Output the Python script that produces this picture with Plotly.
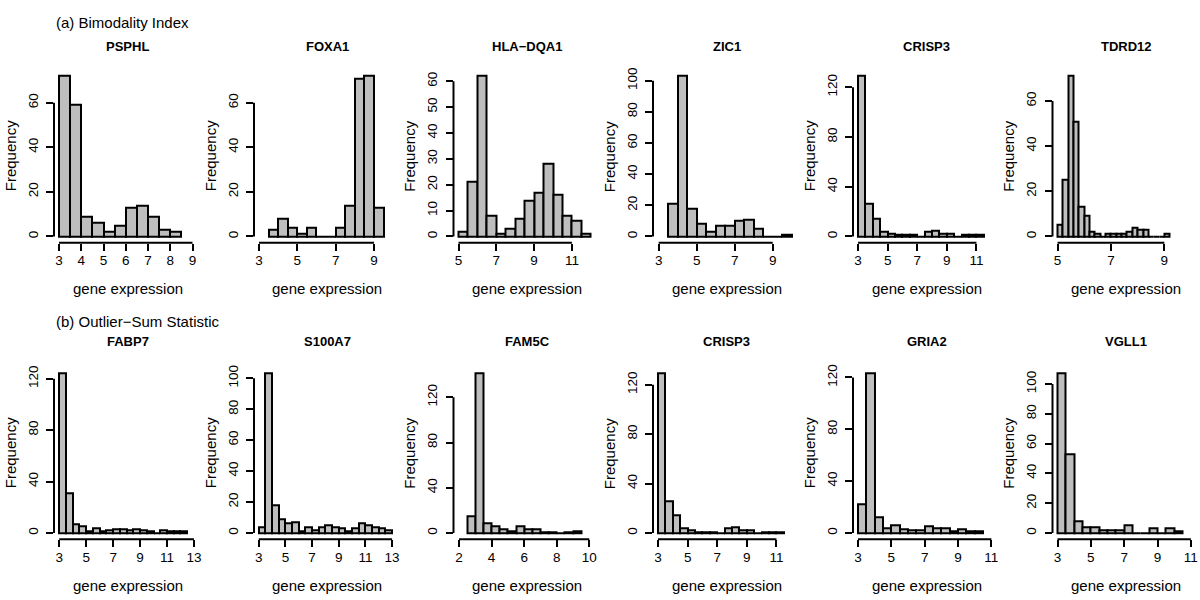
import plotly.graph_objects as go

# ---------------- data ----------------
gene_names = ["PSPHL", "FOXA1", "HLA\u2212DQA1", "ZIC1", "CRISP3", "TDRD12",
              "FABP7", "S100A7", "FAM5C", "CRISP3", "GRIA2", "VGLL1"]

bin_starts = [3.0, 3.5, 5.0, 3.5, 3.0, 5.0,
              3.0, 3.0, 2.5, 3.0, 3.0, 3.0]
bin_widths = [0.5, 0.5, 0.5, 0.5, 0.5, 0.2,
              0.5, 0.5, 0.5, 0.5, 0.5, 0.5]

psphl_counts = [72, 59, 9, 6, 2, 5, 13, 14, 9, 3, 2]
foxa1_counts = [3, 8, 4, 1, 4, 0, 0, 4, 14, 71, 72, 13]
hla_dqa1_counts = [2, 21, 62, 8, 1, 3, 7, 14, 17, 28, 16, 8, 6, 1]
zic1_counts = [21, 103, 18, 8, 3, 7, 7, 10, 11, 5, 0, 0, 1]
crisp3_counts = [129, 26, 14, 4, 2, 1, 1, 1, 0, 4, 5, 2, 2, 0, 1, 1, 1]
tdrd12_counts = [5, 25, 71, 51, 13, 9, 2, 1, 0, 1, 1, 1, 1, 2, 4, 3, 3, 0, 0, 0, 1]
fabp7_counts = [124, 31, 7, 5, 1, 4, 1, 2, 3, 3, 2, 3, 2, 1, 0, 2, 1, 1, 1]
s100a7_counts = [4, 103, 18, 9, 6, 7, 1, 4, 2, 4, 5, 4, 3, 1, 3, 6, 5, 4, 3, 2]
fam5c_counts = [15, 141, 9, 6, 3, 2, 6, 3, 3, 1, 1, 0, 1, 2]
gria2_counts = [22, 123, 12, 4, 6, 3, 2, 2, 5, 4, 4, 1, 3, 1, 1]
vgll1_counts = [107, 53, 8, 4, 4, 2, 2, 2, 5, 0, 0, 3, 0, 3, 1]

all_counts = [psphl_counts, foxa1_counts, hla_dqa1_counts, zic1_counts,
              crisp3_counts, tdrd12_counts, fabp7_counts, s100a7_counts,
              fam5c_counts, crisp3_counts, gria2_counts, vgll1_counts]

x_tick_values = [
    [3, 4, 5, 6, 7, 8, 9], [3, 5, 7, 9], [5, 7, 9, 11], [3, 5, 7, 9],
    [3, 5, 7, 9, 11], [5, 7, 9],
    [3, 5, 7, 9, 11, 13], [3, 5, 7, 9, 11, 13], [2, 4, 6, 8, 10],
    [3, 5, 7, 9, 11], [3, 5, 7, 9, 11], [3, 5, 7, 9, 11],
]
y_tick_values = [
    [0, 20, 40, 60], [0, 20, 40, 60], [0, 10, 20, 30, 40, 50, 60],
    [0, 20, 40, 60, 80, 100], [0, 40, 80, 120], [0, 20, 40, 60],
    [0, 40, 80, 120], [0, 20, 40, 60, 80, 100], [0, 40, 80, 120],
    [0, 40, 80, 120], [0, 40, 80, 120], [0, 20, 40, 60, 80, 100],
]

section_titles = ["(a) Bimodality Index", "(b) Outlier\u2212Sum Statistic"]
x_label = "gene expression"
y_label = "Frequency"

# ---------------- layout parameters (pixels) ----------------
W_PX, H_PX = 1200, 600
col_left = [54, 254, 453.5, 653, 853, 1052.5]     # y-axis line positions
panel_w = 147
row_top = [67, 366]
row_bot = [241, 539]
# x value at the left edge and pixels per unit, per panel
x_left = [2.775, 2.74, 4.735, 2.70, 2.66, 4.81,
          2.61, 2.64, 1.66, 2.66, 2.70, 2.70]
px_per_unit = [22.25, 19.17, 18.9, 19.0, 14.8, 26.7,
               13.47, 13.33, 16.28, 14.8, 16.67, 16.67]

FONT = "Liberation Sans, Arial, Helvetica, sans-serif"
GRAY = "#BEBEBE"

fig = go.Figure()
layout_axes = {}
shapes = []
annotations = []

for i in range(12):
    row, col = divmod(i, 6)
    sfx = "" if i == 0 else str(i + 1)
    counts = all_counts[i]
    w = bin_widths[i]
    centers = [bin_starts[i] + w * (k + 0.5) for k in range(len(counts))]
    ymax = max(counts)

    fig.add_trace(go.Bar(
        x=centers, y=counts, width=[w] * len(counts),
        marker=dict(color=GRAY, line=dict(color="black", width=2)),
        xaxis="x" + sfx, yaxis="y" + sfx, showlegend=False,
        hoverinfo="x+y",
    ))

    L = col_left[col]
    x0 = L / W_PX
    x1 = (L + panel_w) / W_PX
    xr = x_left[i] + panel_w / px_per_unit[i]
    y0 = 1 - row_bot[row] / H_PX
    y1 = 1 - row_top[row] / H_PX

    layout_axes["xaxis" + sfx] = dict(
        domain=[x0, x1], range=[x_left[i], xr], anchor="y" + sfx,
        showgrid=False, zeroline=False, showline=False,
        tickmode="array", tickvals=x_tick_values[i],
        ticktext=[str(v) for v in x_tick_values[i]],
        ticks="outside", ticklen=7, tickwidth=2, tickcolor="black",
        tickfont=dict(family=FONT, size=13.5, color="black"),
        ticklabelstandoff=-2,
        fixedrange=True,
    )
    layout_axes["yaxis" + sfx] = dict(
        domain=[y0, y1], range=[-0.04 * ymax, 1.04 * ymax], anchor="x" + sfx,
        showgrid=False, zeroline=False, showline=False,
        tickmode="array", tickvals=y_tick_values[i],
        ticktext=[str(v) for v in y_tick_values[i]],
        ticks="outside", ticklen=7, tickwidth=2, tickcolor="black",
        tickangle=-90,
        tickfont=dict(family=FONT, size=13.5, color="black"),
        ticklabelstandoff=3,
        fixedrange=True,
    )

    # axis lines spanning first to last tick (R style)
    shapes.append(dict(type="line", xref="x" + sfx, yref="y" + sfx + " domain",
                       x0=x_tick_values[i][0], x1=x_tick_values[i][-1], y0=0, y1=0,
                       line=dict(color="black", width=2)))
    shapes.append(dict(type="line", xref="x" + sfx + " domain", yref="y" + sfx,
                       x0=0, x1=0, y0=y_tick_values[i][0], y1=y_tick_values[i][-1],
                       line=dict(color="black", width=2)))

    title_y = [44, 340][row]
    xlab_y = [287, 585][row]
    annotations.append(dict(text="<b>%s</b>" % gene_names[i], xref="paper", yref="paper",
                            x=(L + panel_w / 2) / W_PX, y=1 - title_y / H_PX,
                            xanchor="center", yanchor="middle", showarrow=False,
                            font=dict(family=FONT, size=13, color="black")))
    annotations.append(dict(text=x_label, xref="paper", yref="paper",
                            x=(L + panel_w / 2) / W_PX, y=1 - xlab_y / H_PX,
                            xanchor="center", yanchor="middle", showarrow=False,
                            font=dict(family=FONT, size=15, color="black")))
    annotations.append(dict(text=y_label, xref="paper", yref="paper",
                            x=(L - 44) / W_PX,
                            y=1 - (row_top[row] + row_bot[row]) / 2 / H_PX,
                            xanchor="center", yanchor="middle", showarrow=False,
                            textangle=-90,
                            font=dict(family=FONT, size=15, color="black")))

for r, t in enumerate(section_titles):
    annotations.append(dict(text=t, xref="paper", yref="paper",
                            x=54 / W_PX, y=1 - [20, 320][r] / H_PX,
                            xanchor="left", yanchor="middle", showarrow=False,
                            font=dict(family=FONT, size=15, color="black")))

fig.update_layout(
    width=W_PX, height=H_PX,
    margin=dict(l=0, r=0, t=0, b=0),
    paper_bgcolor="white", plot_bgcolor="white",
    shapes=shapes, annotations=annotations,
    bargap=0, showlegend=False,
    **layout_axes,
)

fig.write_html(
    "out.html",
    config={"displayModeBar": False},
    post_script="document.body.style.margin='0px';document.body.style.padding='0px';",
)
